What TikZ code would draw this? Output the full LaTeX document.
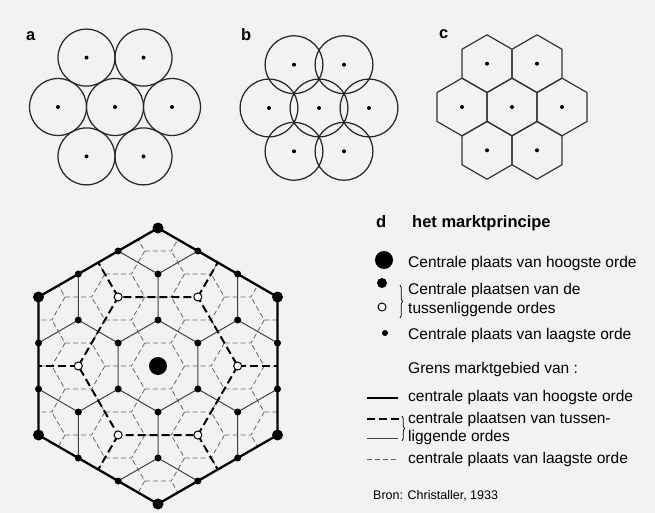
\documentclass[tikz,border=0pt]{standalone}
\usepackage{fontspec}
\setmainfont{Liberation Sans}
\usetikzlibrary{decorations.pathreplacing}

\newcommand{\legfont}{\fontsize{15.5}{18}\selectfont}

\begin{document}
\begin{tikzpicture}[x=1pt, y=-1pt,
  ring/.style={draw=black!85, line width=1.25pt},
  cell/.style={draw=black!80, line width=1.2pt, line join=round},
  dot/.style={circle, fill=black, inner sep=0pt, minimum size=#1},
  odot/.style={circle, draw=black, fill=white, line width=1pt, inner sep=0pt, minimum size=8pt},
  grensA/.style={line width=2.3pt, line join=round},
  grensB/.style={line width=2pt, dash pattern=on 8pt off 4pt},
  grensC/.style={draw=black!75, line width=1pt},
  grensD/.style={draw=black!60, line width=0.8pt, dash pattern=on 5pt off 3pt},
  letter/.style={font=\bfseries\fontsize{16.5}{18}\selectfont, anchor=base west, inner sep=0pt},
  legtext/.style={font=\legfont, anchor=base west, inner sep=0pt},
  accolade/.style={decorate, decoration={brace, amplitude=2.5pt}, line width=0.8pt}
]
\fill[black!5] (0,0) rectangle (655,513);
\useasboundingbox (0,0) rectangle (655,513);

% a: touching circles
\node[letter] (la) at (26,41) {a};
\foreach \x/\y [count=\k] in {86.5/57.6, 143.5/57.6, 58/107, 115/107, 172/107, 86.5/156.4, 143.5/156.4} {
  \draw[ring] (\x,\y) circle[radius=28.5];
  \node[dot=4pt] (a\k) at (\x,\y) {};
}

% b: overlapping circles
\node[letter] (lb) at (241,41) {b};
\foreach \x/\y [count=\k] in {294/64.7, 344/64.7, 269/108, 319/108, 369/108, 294/151.3, 344/151.3} {
  \draw[ring] (\x,\y) circle[radius=28.9];
  \node[dot=4pt] (b\k) at (\x,\y) {};
}

% c: hexagons
\node[letter] (lc) at (439,39) {c};
\foreach \x/\y [count=\k] in {487/63.7, 537/63.7, 462/107, 512/107, 562/107, 487/150.3, 537/150.3} {
  \draw[cell] (\x,\y) +(30:28.87) -- +(90:28.87) -- +(150:28.87) -- +(210:28.87) -- +(270:28.87) -- +(330:28.87) -- cycle;
  \node[dot=4pt] (c\k) at (\x,\y) {};
}

% d: het marktprincipe
\begin{scope}[shift={(158,366)}]
  \begin{scope}
    \clip (30:138) -- (90:138) -- (150:138) -- (210:138) -- (270:138) -- (330:138) -- cycle;
    % laagste orde
    \foreach \i in {-4,...,4}
      \foreach \j in {-5,...,5}
        \draw[grensD] ({\i*39.837},{\i*23+\j*46}) +(0:26.56) -- +(60:26.56) -- +(120:26.56) -- +(180:26.56);
    % tussenliggende orde
    \foreach \a in {-3,...,3}
      \foreach \b in {-3,...,3}
        \draw[grensC] ({\a*79.674+\b*39.837},{\b*69}) +(-30:46) -- +(30:46) -- +(90:46) -- +(150:46);
  \end{scope}
  \draw[grensB] (0:79.674) -- (60:79.674) -- (120:79.674) -- (180:79.674) -- (240:79.674) -- (300:79.674) -- cycle;
  \foreach \t in {0,60,...,300}
    \draw[grensB] (\t:79.674) -- (\t:119.5);
  \draw[grensA] (30:138) -- (90:138) -- (150:138) -- (210:138) -- (270:138) -- (330:138) -- cycle;

  % plaatsen
  \foreach \i in {-3,...,3}
    \foreach \j in {-3,...,3} {
      \pgfmathtruncatemacro{\s}{abs(\i+\j)}
      \pgfmathtruncatemacro{\c}{mod(\i-\j+12,3)}
      \pgfmathtruncatemacro{\b}{mod(\i+12,3)+mod(\j+12,3)}
      \ifnum\s<4
        \ifnum\c=0
          \ifnum\b>0 \node[odot] (o\i\j) at ({\i*39.837},{\i*23+\j*46}) {}; \fi
        \else
          \node[dot=7pt] (s\i\j) at ({\i*39.837},{\i*23+\j*46}) {};
        \fi
      \fi
    }
  \foreach \t [count=\k] in {30,90,...,330}
    \node[dot=11pt] (m\k) at (\t:138) {};
  \node[dot=18pt] (top) at (0,0) {};
\end{scope}

% legenda
\node[letter] (ld) at (376,227) {d};
\node[letter] (titel) at (412,227) {het marktprincipe};
\node[dot=18pt] (k1) at (384,260) {};
\node[legtext] (t1) at (408,267) {Centrale plaats van hoogste orde};
\node[dot=10pt] (k2) at (382,283) {};
\node[odot] (k3) at (382,307) {};
\draw[accolade] (400,285) -- (400,318);
\node[legtext] (t2) at (408,294) {Centrale plaatsen van de};
\node[legtext] (t3) at (408,313) {tussenliggende ordes};
\node[dot=6pt] (k4) at (385,333) {};
\node[legtext] (t4) at (408,339) {Centrale plaats van laagste orde};

\node[legtext] (grens) at (408,373) {Grens marktgebied van :};
\draw[grensA] (367,398) -- (398,398);
\node[legtext] (g1) at (408,401) {centrale plaats van hoogste orde};
\draw[grensB] (367,419) -- (399,419);
\node[legtext] (g2) at (408,423) {centrale plaatsen van tussen-};
\draw[grensC] (367,438) -- (398,438);
\node[legtext] (g3) at (408,441) {liggende ordes};
\draw[accolade] (402,416) -- (402,441);
\draw[grensD] (367,459) -- (398,459);
\node[legtext] (g4) at (408,463) {centrale plaats van laagste orde};
\node[font=\fontsize{12.5}{14}\selectfont, anchor=base west, inner sep=0pt] (bron) at (373,499) {Bron: Christaller, 1933};
\end{tikzpicture}
\end{document}
